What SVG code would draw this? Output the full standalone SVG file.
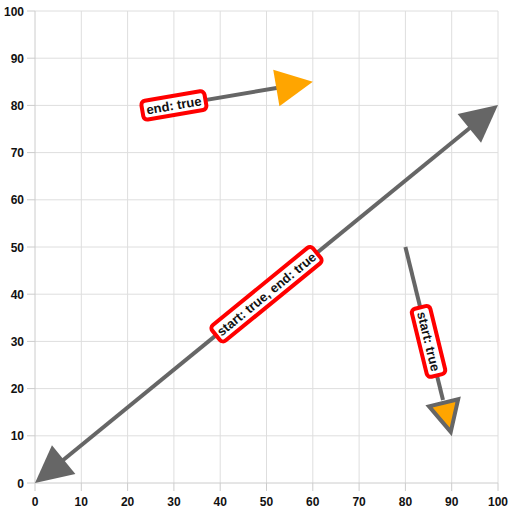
<svg xmlns="http://www.w3.org/2000/svg" width="512" height="512" viewBox="0 0 512 512">
<style>
.grid{stroke:#dedede;stroke-width:1;fill:none}
.axis{stroke:#cccccc;stroke-width:1;fill:none}
.tl{font-family:"Liberation Sans",Arial,sans-serif;font-size:12px;font-weight:bold;fill:#111}
.conn{stroke:#666666;stroke-width:4;fill:none}
.head{fill:#666666}
.headO{fill:#FFA500}
.headOS{fill:#FFA500;stroke:#666666;stroke-width:4;stroke-linejoin:miter}
.lbox{fill:#ffffff;stroke:#ff0000;stroke-width:4}
.ltxt{font-family:"Liberation Sans",Arial,sans-serif;font-size:13px;font-weight:bold;fill:#111;text-anchor:middle;dominant-baseline:central}
</style>
<rect width="512" height="512" fill="#ffffff"/>
<g id="grid">
<path class="grid" d="M81.3,11V483M127.6,11V483M173.9,11V483M220.2,11V483M266.5,11V483M312.8,11V483M359.1,11V483M405.4,11V483M451.7,11V483M498,11V483"/>
<path class="grid" d="M35,435.8H498M35,388.6H498M35,341.4H498M35,294.2H498M35,247H498M35,199.8H498M35,152.6H498M35,105.4H498M35,58.2H498M35,11H498"/>
<path class="axis" d="M35,11V483H498"/>
<path class="axis" d="M27,483H35M27,435.8H35M27,388.6H35M27,341.4H35M27,294.2H35M27,247H35M27,199.8H35M27,152.6H35M27,105.4H35M27,58.2H35M27,11H35"/>
<path class="axis" d="M35,483V491M81.3,483V491M127.6,483V491M173.9,483V491M220.2,483V491M266.5,483V491M312.8,483V491M359.1,483V491M405.4,483V491M451.7,483V491M498,483V491"/>
</g>
<g id="yaxis-labels" class="tl" text-anchor="end">
<text x="24" y="487.5">0</text>
<text x="24" y="440.3">10</text>
<text x="24" y="393.1">20</text>
<text x="24" y="345.9">30</text>
<text x="24" y="298.7">40</text>
<text x="24" y="251.5">50</text>
<text x="24" y="204.3">60</text>
<text x="24" y="157.1">70</text>
<text x="24" y="109.9">80</text>
<text x="24" y="62.7">90</text>
<text x="24" y="15.5">100</text>
</g>
<g id="xaxis-labels" class="tl" text-anchor="middle">
<text x="35" y="506">0</text>
<text x="81.3" y="506">10</text>
<text x="127.6" y="506">20</text>
<text x="173.9" y="506">30</text>
<text x="220.2" y="506">40</text>
<text x="266.5" y="506">50</text>
<text x="312.8" y="506">60</text>
<text x="359.1" y="506">70</text>
<text x="405.4" y="506">80</text>
<text x="451.7" y="506">90</text>
<text x="498" y="506">100</text>
</g>
<g id="connectors">
<line class="conn" x1="62" y1="461" x2="471" y2="127"/>
<polygon class="head" points="35,483 75.36,473.93 51.96,445.27"/>
<polygon class="head" points="498,105 481.04,142.73 457.64,114.07"/>
<line class="conn" x1="173.9" y1="105.4" x2="278" y2="87.7"/>
<polygon class="headO" points="312.8,81.8 279.43,106.24 273.23,69.76"/>
<line class="conn" x1="405.4" y1="247" x2="443" y2="400"/>
<polygon class="headOS" points="450.75,431.9 429.03,406.37 458.17,399.23"/>
</g>
<g id="label-main" transform="translate(266.5,294.2) rotate(-39.2)">
<rect class="lbox" x="-65" y="-10" width="130" height="20" rx="4"/>
<text class="ltxt" x="0" y="0">start: true, end: true</text>
</g>
<g id="label-end" transform="translate(173.9,105.4) rotate(-9.65)">
<rect class="lbox" x="-32" y="-9.5" width="64" height="19" rx="4"/>
<text class="ltxt" x="0" y="0">end: true</text>
</g>
<g id="label-start" transform="translate(428.55,341.4) rotate(76.22)">
<rect class="lbox" x="-35" y="-9.5" width="70" height="19" rx="4"/>
<text class="ltxt" x="0" y="0">start: true</text>
</g>
</svg>
